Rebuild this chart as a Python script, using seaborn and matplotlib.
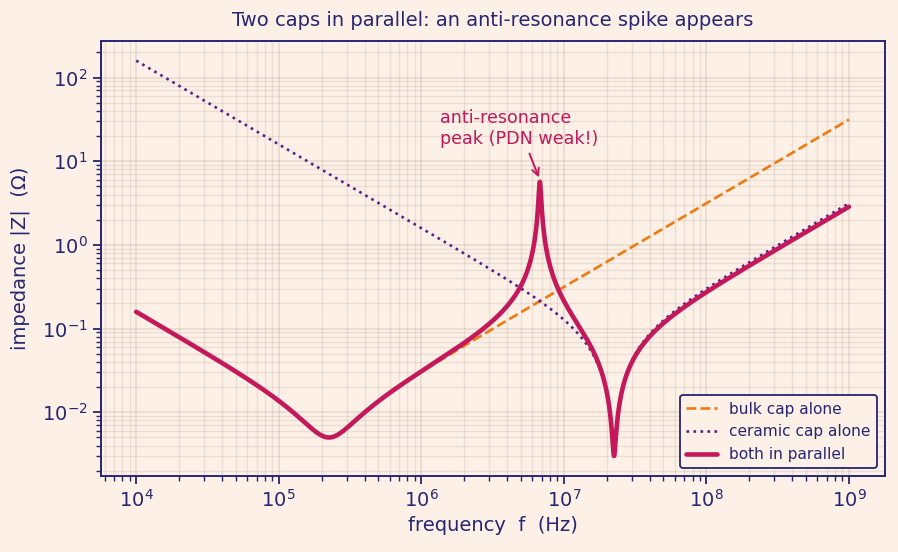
import numpy as np
import pandas as pd
import matplotlib
matplotlib.use("Agg")
import matplotlib.pyplot as plt
import seaborn as sns

# Component values (capacitance F, ESL H, ESR ohm)
series_names = ["bulk cap alone", "ceramic cap alone"]
cap_values = [100e-6, 100e-9]
esl_values = [5e-9, 0.5e-9]
esr_values = [5e-3, 3e-3]
freq_range_decades = [4, 9]  # 1e4 .. 1e9 Hz

BG = "#fdf0e6"
NAVY = "#262675"
ORANGE = "#f07a10"
PURPLE = "#5a1f8e"
CRIMSON = "#c4185a"

sns.set_theme(style="white")
plt.rcParams["font.family"] = ["DejaVu Sans"]
plt.rcParams["font.sans-serif"] = ["DejaVu Sans"]
plt.rcParams["mathtext.fontset"] = "dejavusans"

f = np.logspace(freq_range_decades[0], freq_range_decades[1], 6000)
w = 2 * np.pi * f

def z_rlc(C, L, R):
    return R + 1j * w * L + 1 / (1j * w * C)

zb = z_rlc(cap_values[0], esl_values[0], esr_values[0])
zc = z_rlc(cap_values[1], esl_values[1], esr_values[1])
zp = zb * zc / (zb + zc)

df_b = pd.DataFrame({"f": f, "z": np.abs(zb)})
df_c = pd.DataFrame({"f": f, "z": np.abs(zc)})
df_p = pd.DataFrame({"f": f, "z": np.abs(zp)})

fig, ax = plt.subplots(figsize=(8.98, 5.52), dpi=100)
fig.patch.set_facecolor(BG)
ax.set_facecolor(BG)

sns.lineplot(data=df_b, x="f", y="z", ax=ax, color=ORANGE, linestyle="--",
             linewidth=1.9, label=series_names[0], zorder=2)
sns.lineplot(data=df_c, x="f", y="z", ax=ax, color=PURPLE, linestyle=":",
             linewidth=1.9, label=series_names[1], zorder=2)
sns.lineplot(data=df_p, x="f", y="z", ax=ax, color=CRIMSON, linestyle="-",
             linewidth=3.3, label="both in parallel", zorder=3)

ax.set_xscale("log")
ax.set_yscale("log")
ax.margins(x=0.05, y=0.05)

ax.grid(True, which="major", color="#7a6656", alpha=0.16, linewidth=1.2)
ax.grid(True, which="minor", color="#7a6656", alpha=0.13, linewidth=1.0)

for s in ax.spines.values():
    s.set_color(NAVY)
    s.set_linewidth(1.4)
ax.tick_params(which="both", colors=NAVY, labelcolor=NAVY, labelsize=14,
               direction="out", left=True, bottom=True)
ax.tick_params(which="major", length=6, width=1.3)
ax.tick_params(which="minor", length=3.5, width=1.0)

ax.set_xlabel("frequency  f  (Hz)", color=NAVY, fontsize=14)
ax.set_ylabel("impedance |Z|  (Ω)", color=NAVY, fontsize=14, labelpad=8)
ax.set_title("Two caps in parallel: an anti-resonance spike appears",
             color=NAVY, fontsize=14, pad=11)

ipk = np.argmax(np.where((f > 2e6) & (f < 2e7), np.abs(zp), 0))
ax.annotate("anti-resonance\npeak (PDN weak!)",
            xy=(f[ipk], np.abs(zp)[ipk] * 1.05),
            xytext=(1.36e6, 14.5), color=CRIMSON, fontsize=12.6,
            ha="left", va="bottom",
            arrowprops=dict(arrowstyle="->", color=CRIMSON, lw=1.4))

leg = ax.legend(loc="lower right", fontsize=11.1, frameon=True, fancybox=True,
                facecolor=BG, edgecolor=NAVY, framealpha=1)
leg.get_frame().set_linewidth(1.3)
for t in leg.get_texts():
    t.set_color(NAVY)

fig.subplots_adjust(left=0.112, right=0.985, top=0.926, bottom=0.138)
fig.savefig("out.png", dpi=100, facecolor=BG)
